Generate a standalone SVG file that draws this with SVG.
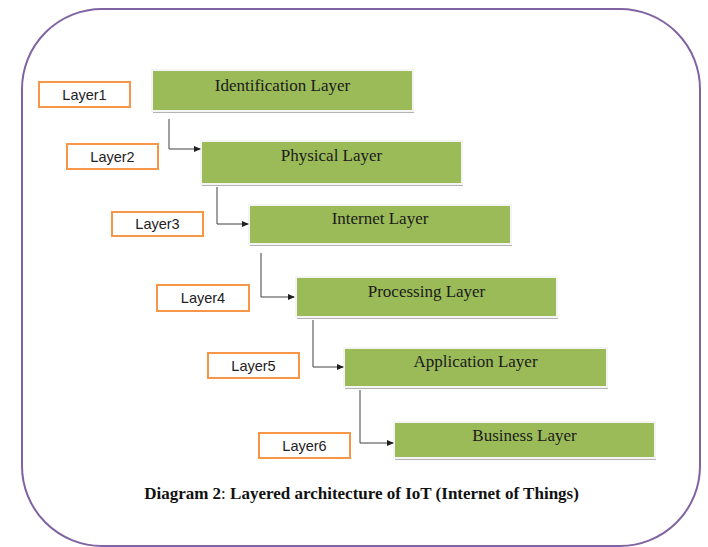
<svg xmlns="http://www.w3.org/2000/svg" width="708" height="547" viewBox="0 0 708 547">
<style>
.layer rect.bg{fill:#9bbb59;stroke:#f4f4f4;stroke-width:2}
.layer rect.sh{fill:#b3b3b3}
.layer text{font-family:"Liberation Serif","Times New Roman",serif;font-size:17px;fill:#1a1a1a;text-anchor:middle}
.lbl rect{fill:#ffffff;stroke:#f79646;stroke-width:2}
.lbl text{font-family:"Liberation Sans",Arial,sans-serif;font-size:14.5px;fill:#222;text-anchor:middle}
.conn path{fill:none;stroke:#404040;stroke-width:1}
.cap{font-family:"Liberation Serif","Times New Roman",serif;font-size:17px;font-weight:bold;fill:#111;text-anchor:middle}
</style>
<defs>
<marker id="arr" markerWidth="7" markerHeight="6" refX="6" refY="3" orient="auto" markerUnits="userSpaceOnUse">
<path d="M0,0 L7,3 L0,6 z" fill="#202020"/>
</marker>
</defs>
<rect x="22" y="9" width="678" height="537" rx="80" ry="80" fill="none" stroke="#8064a2" stroke-width="2"/>

<g id="layer1" class="layer"><rect class="sh" x="153" y="72" width="261" height="41"/><rect class="bg" x="152" y="70" width="261" height="41"/><text x="282.5" y="91">Identification Layer</text></g>
<g id="layer2" class="layer"><rect class="sh" x="202" y="143" width="261" height="43"/><rect class="bg" x="201" y="141" width="261" height="43"/><text x="331.5" y="161">Physical Layer</text></g>
<g id="layer3" class="layer"><rect class="sh" x="250" y="207" width="262" height="39"/><rect class="bg" x="249" y="205" width="262" height="39"/><text x="380" y="224">Internet Layer</text></g>
<g id="layer4" class="layer"><rect class="sh" x="297" y="279" width="261" height="40"/><rect class="bg" x="296" y="277" width="261" height="40"/><text x="426.5" y="297">Processing Layer</text></g>
<g id="layer5" class="layer"><rect class="sh" x="345" y="350" width="263" height="39"/><rect class="bg" x="344" y="348" width="263" height="39"/><text x="475.5" y="367">Application Layer</text></g>
<g id="layer6" class="layer"><rect class="sh" x="395" y="424" width="261" height="36"/><rect class="bg" x="394" y="422" width="261" height="36"/><text x="524.5" y="441">Business Layer</text></g>

<g id="label1" class="lbl"><rect x="39" y="82" width="91" height="25"/><text x="84.5" y="99.5">Layer1</text></g>
<g id="label2" class="lbl"><rect x="67" y="144" width="91" height="25"/><text x="112.5" y="161.5">Layer2</text></g>
<g id="label3" class="lbl"><rect x="112" y="212" width="91" height="24"/><text x="157.5" y="229">Layer3</text></g>
<g id="label4" class="lbl"><rect x="157" y="285" width="92" height="26"/><text x="203" y="303">Layer4</text></g>
<g id="label5" class="lbl"><rect x="208" y="353" width="91" height="25"/><text x="253.5" y="370.5">Layer5</text></g>
<g id="label6" class="lbl"><rect x="259" y="433" width="91" height="25"/><text x="304.5" y="450.5">Layer6</text></g>

<g id="connectors" class="conn">
<path d="M169 119 V149 H200" marker-end="url(#arr)"/>
<path d="M217 187 V224 H248" marker-end="url(#arr)"/>
<path d="M261 253 V297 H294" marker-end="url(#arr)"/>
<path d="M313 320 V367 H343" marker-end="url(#arr)"/>
<path d="M360 390 V443 H393" marker-end="url(#arr)"/>
</g>

<text class="cap" x="361.5" y="499">Diagram 2<tspan font-weight="normal">: </tspan>Layered architecture of IoT (Internet of Things)</text>
</svg>
